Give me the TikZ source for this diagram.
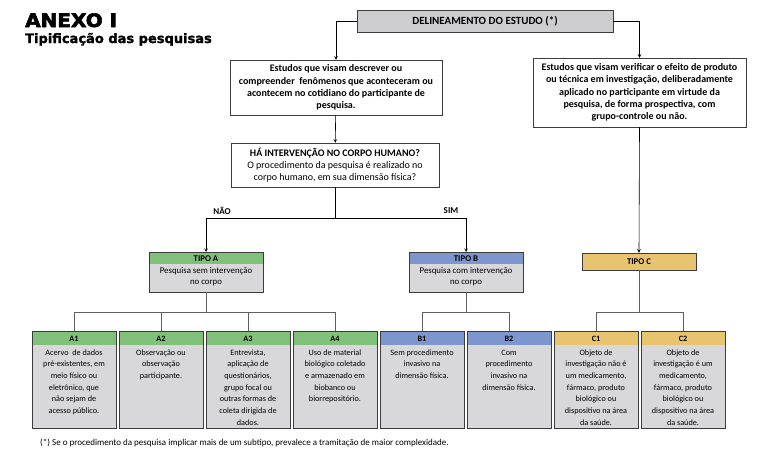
\documentclass[tikz,border=0pt]{standalone}
\usepackage{fontspec}
\setmainfont{Carlito}
\newfontfamily\heavyfont{DejaVu Sans Bold}[FakeBold=3,FakeStretch=1.08]
\newfontfamily\subheadfont{DejaVu Sans Bold}[FakeBold=1.5]
\usetikzlibrary{positioning}

\definecolor{edge}{RGB}{60,60,60}
\definecolor{linkgray}{RGB}{95,95,95}
\definecolor{titlegray}{RGB}{205,205,208}
\definecolor{bodygray}{RGB}{216,216,218}
\definecolor{agreen}{RGB}{128,192,122}
\definecolor{bblue}{RGB}{125,150,205}
\definecolor{ctan}{RGB}{232,196,112}

\tikzset{
  box/.style={draw=edge, fill=white, align=center, inner sep=0pt},
  hdrbox/.style 2 args={draw=edge, fill=bodygray, inner sep=0pt,
    path picture={\fill[#1] (path picture bounding box.north west)
      rectangle ([yshift=-#2]path picture bounding box.north east);}},
  link/.style={draw=black, line width=0.6pt},
  sublink/.style={draw=linkgray, line width=0.6pt},
  arr/.style={link, -stealth}
}

\newcommand{\subtxt}[2]{\parbox[t][97pt][t]{84pt}{\centering\vspace*{4.5pt}%
  \textbf{#1}\par\vspace{2.3pt}#2}}
\newcommand{\tipotxt}[2]{\parbox[t][40pt][t]{114pt}{\centering\vspace*{3.5pt}%
  \textbf{#1}\par\vspace{1.5pt}#2}}

\begin{document}
\begin{tikzpicture}[x=1pt, y=-1pt]
  \useasboundingbox (0,0) rectangle (771,458);

  % title
  \node[anchor=base west, inner sep=0pt, font=\heavyfont\fontsize{18.5}{19}\selectfont] (anexo) at (25,27) {ANEXO I};
  \node[anchor=base west, inner sep=0pt, font=\subheadfont\fontsize{13}{14}\selectfont] (tipif) at (25,43) {Tipificação das pesquisas};

  % top part
  \node[box, fill=titlegray, minimum width=256pt, minimum height=22pt,
        font=\bfseries\fontsize{11}{12}\selectfont] (delin) at (485,21) {DELINEAMENTO DO ESTUDO (*)};
  \node[box, minimum width=212pt, minimum height=55pt,
        font=\bfseries\fontsize{10}{12.2}\selectfont] (descr) at (336,87.5)
        {Estudos que visam descrever ou\\compreender \ fenômenos que aconteceram ou\\acontecem no cotidiano do participante de\\pesquisa.};
  \node[box, minimum width=213pt, minimum height=69pt,
        font=\bfseries\fontsize{10}{12.4}\selectfont] (verif) at (639.5,92.5)
        {Estudos que visam verificar o efeito de produto\\ou técnica em investigação, deliberadamente\\aplicado no participante em virtude da\\pesquisa, de forma prospectiva, com\\grupo-controle ou não.};
  \node[box, minimum width=208pt, minimum height=44pt,
        font=\fontsize{10}{12}\selectfont] (quest) at (335,165)
        {\textbf{HÁ INTERVENÇÃO NO CORPO HUMANO?}\\O procedimento da pesquisa é realizado no\\corpo humano, em sua dimensão física?};

  \draw[arr] (delin.west) -| (descr.north);
  \draw[arr] (delin.east) -| (verif.north);
  \draw[arr] (descr) -- (quest);

  % tipos
  \node[hdrbox={agreen}{12pt}, anchor=north, font=\fontsize{8.8}{11}\selectfont] (tipoa) at (206,252)
        {\tipotxt{TIPO A}{Pesquisa sem intervenção\\no corpo}};
  \node[hdrbox={bblue}{12pt}, anchor=north, font=\fontsize{8.8}{11}\selectfont] (tipob) at (466,252)
        {\tipotxt{TIPO B}{Pesquisa com intervenção\\no corpo}};
  \node[box, fill=ctan, minimum width=114pt, minimum height=17pt,
        font=\bfseries\fontsize{8.8}{11}\selectfont] (tipoc) at (639,261.5) {TIPO C};

  \draw[arr] (quest.south) -- ++(0,31) -| (tipoa.north);
  \draw[arr] (quest.south) -- ++(0,31) -| (tipob.north);
  \draw[arr] (verif.south) -- (tipoc.north);
  \node[font=\bfseries\fontsize{9}{10}\selectfont] (nao) at (222,211) {NÃO};
  \node[font=\bfseries\fontsize{9}{10}\selectfont] (sim) at (451,211) {SIM};

  % subtipos
  \node[hdrbox={agreen}{13.5pt}, anchor=north, font=\fontsize{8.2}{11.7}\selectfont] (a1) at (74,331)
        {\subtxt{A1}{Acervo \ de dados\\pré-existentes, em\\meio físico ou\\eletrônico, que\\não sejam de\\acesso público.}};
  \node[hdrbox={agreen}{13.5pt}, anchor=north, font=\fontsize{8.2}{11.7}\selectfont] (a2) at (161,331)
        {\subtxt{A2}{Observação ou\\observação\\participante.}};
  \node[hdrbox={agreen}{13.5pt}, anchor=north, font=\fontsize{8.2}{11.7}\selectfont] (a3) at (248,331)
        {\subtxt{A3}{Entrevista,\\aplicação de\\questionários,\\grupo focal ou\\outras formas de\\coleta dirigida de\\dados.}};
  \node[hdrbox={agreen}{13.5pt}, anchor=north, font=\fontsize{8.2}{11.7}\selectfont] (a4) at (335,331)
        {\subtxt{A4}{Uso de material\\biológico coletado\\e armazenado em\\biobanco ou\\biorrepositório.}};
  \node[hdrbox={bblue}{13.5pt}, anchor=north, font=\fontsize{8.2}{11.7}\selectfont] (b1) at (422,331)
        {\subtxt{B1}{Sem procedimento\\invasivo na\\dimensão física.}};
  \node[hdrbox={bblue}{13.5pt}, anchor=north, font=\fontsize{8.2}{11.7}\selectfont] (b2) at (509,331)
        {\subtxt{B2}{Com\\procedimento\\invasivo na\\dimensão física.}};
  \node[hdrbox={ctan}{13.5pt}, anchor=north, font=\fontsize{8.2}{11.7}\selectfont] (c1) at (596,331)
        {\subtxt{C1}{Objeto de\\investigação não é\\um medicamento,\\fármaco, produto\\biológico ou\\dispositivo na área\\da saúde.}};
  \node[hdrbox={ctan}{13.5pt}, anchor=north, font=\fontsize{8.2}{11.7}\selectfont] (c2) at (683,331)
        {\subtxt{C2}{Objeto de\\investigação é um\\medicamento,\\fármaco, produto\\biológico ou\\dispositivo na área\\da saúde.}};

  \draw[sublink] (tipoa.south) -- ++(0,20) -| (a1.north);
  \draw[sublink] (tipoa.south) -- ++(0,20) -| (a2.north);
  \draw[sublink] (tipoa.south) -- ++(0,20) -| (a3.north);
  \draw[sublink] (tipoa.south) -- ++(0,20) -| (a4.north);
  \draw[sublink] (tipob.south) -- ++(0,20) -| (b1.north);
  \draw[sublink] (tipob.south) -- ++(0,20) -| (b2.north);
  \draw[sublink] (tipoc.south) -- ++(0,42) -| (c1.north);
  \draw[sublink] (tipoc.south) -- ++(0,42) -| (c2.north);

  % nota
  \node[anchor=base west, inner sep=0pt, font=\fontsize{9}{10}\selectfont] (nota) at (40,445)
        {(*) Se o procedimento da pesquisa implicar mais de um subtipo, prevalece a tramitação de maior complexidade.};
\end{tikzpicture}
\end{document}
